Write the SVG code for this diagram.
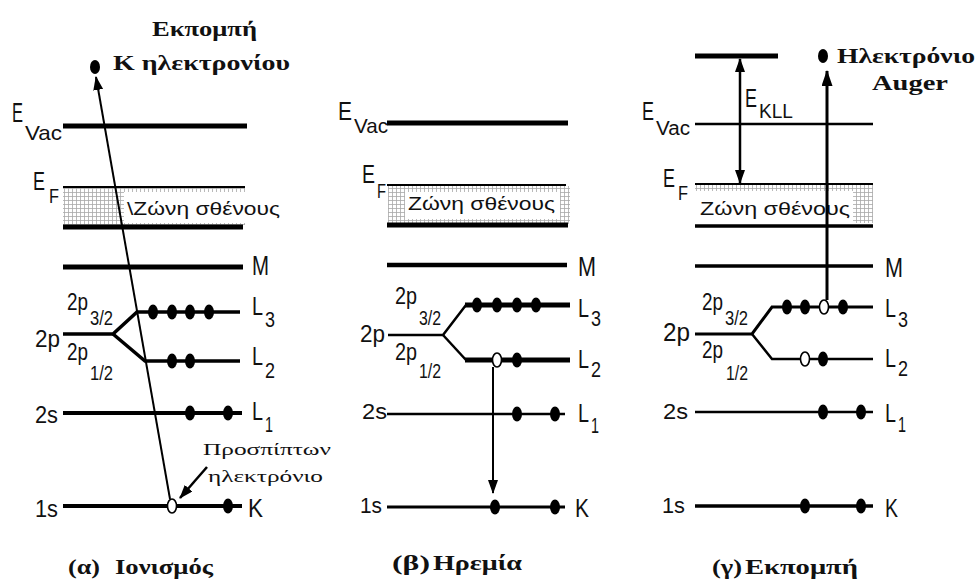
<svg xmlns="http://www.w3.org/2000/svg" width="980" height="583" viewBox="0 0 980 583">
<style>
.lv{stroke:#000;fill:none;stroke-linecap:butt}
.lb{font-family:"Liberation Sans",Arial,sans-serif;fill:#111}
.sf{font-family:"Liberation Serif","Times New Roman",serif;fill:#111}
.b{font-weight:bold}
.dot{fill:#000}
.hole{fill:#fff;stroke:#000;stroke-width:1.6}
.ar{stroke:#000;fill:none}
</style>
<defs>
<pattern id="grid" width="4" height="4" patternUnits="userSpaceOnUse">
<rect width="4" height="4" fill="#fff"/>
<path d="M0,0.5 H4 M0.5,0 V4" stroke="#a8a8a8" stroke-width="0.8"/>
</pattern>
<marker id="ah" markerUnits="userSpaceOnUse" markerWidth="14" markerHeight="10" refX="13" refY="5" orient="auto-start-reverse" viewBox="0 0 14 10">
<path d="M0,0 L14,5 L0,10 z" fill="#000"/>
</marker>
<marker id="ah2" markerUnits="userSpaceOnUse" markerWidth="16" markerHeight="11" refX="15" refY="5.5" orient="auto-start-reverse" viewBox="0 0 16 11">
<path d="M0,0 L16,5.5 L0,11 z" fill="#000"/>
</marker>
</defs>
<rect width="980" height="583" fill="#fff"/>

<!-- Panel alpha -->
<g id="panel-a">
<g id="a-band">
<rect x="63" y="188" width="182" height="37" fill="url(#grid)"/>
<rect x="124" y="192" width="121" height="31" fill="#fff"/>
<text class="lb" x="127" y="215" font-size="18" textLength="153" lengthAdjust="spacingAndGlyphs">\Ζώνη σθένους</text>
</g>
<g id="a-vac"><line class="lv" x1="63" y1="126" x2="247" y2="126" stroke-width="5"/>
<text class="lb" x="12" y="122" font-size="27" textLength="11" lengthAdjust="spacingAndGlyphs">E</text>
<text class="lb" x="25" y="140" font-size="21" textLength="37" lengthAdjust="spacingAndGlyphs">Vac</text></g>
<g id="a-ef"><line class="lv" x1="63" y1="187" x2="245" y2="187" stroke-width="2"/>
<text class="lb" x="33" y="190" font-size="26" textLength="12" lengthAdjust="spacingAndGlyphs">E</text>
<text class="lb" x="49" y="203" font-size="21" textLength="10" lengthAdjust="spacingAndGlyphs">F</text></g>
<g id="a-vb"><line class="lv" x1="63" y1="227" x2="243" y2="227" stroke-width="5"/></g>
<g id="a-m"><line class="lv" x1="63" y1="267" x2="243" y2="267" stroke-width="5"/>
<text class="lb" x="252" y="275" font-size="27" textLength="17" lengthAdjust="spacingAndGlyphs">M</text></g>
<g id="a-2p">
<polyline class="lv" points="63,334 113,334 137,312 240,312" stroke-width="3.5"/>
<polyline class="lv" points="113,334 145,361 240,361" stroke-width="3.5"/>
<text class="lb" x="35" y="347" font-size="24" textLength="25" lengthAdjust="spacingAndGlyphs">2p</text>
<text class="lb" x="67" y="310" font-size="23" textLength="21" lengthAdjust="spacingAndGlyphs">2p</text>
<text class="lb" x="90" y="325" font-size="20" textLength="23" lengthAdjust="spacingAndGlyphs">3/2</text>
<text class="lb" x="67" y="360" font-size="23" textLength="21" lengthAdjust="spacingAndGlyphs">2p</text>
<text class="lb" x="90" y="380" font-size="20" textLength="23" lengthAdjust="spacingAndGlyphs">1/2</text>
<text class="lb" x="252" y="315" font-size="25" textLength="11" lengthAdjust="spacingAndGlyphs">L</text>
<text class="lb" x="265" y="327" font-size="22" textLength="10" lengthAdjust="spacingAndGlyphs">3</text>
<text class="lb" x="252" y="365" font-size="25" textLength="11" lengthAdjust="spacingAndGlyphs">L</text>
<text class="lb" x="265" y="378" font-size="22" textLength="10" lengthAdjust="spacingAndGlyphs">2</text>
<ellipse class="dot" cx="153" cy="312" rx="5" ry="7.5"/><ellipse class="dot" cx="172" cy="312" rx="5" ry="7.5"/>
<ellipse class="dot" cx="190" cy="312" rx="5" ry="7.5"/><ellipse class="dot" cx="209" cy="312" rx="5" ry="7.5"/>
<ellipse class="dot" cx="172" cy="361" rx="5" ry="7.5"/><ellipse class="dot" cx="190" cy="361" rx="5" ry="7.5"/>
</g>
<g id="a-2s"><line class="lv" x1="63" y1="413" x2="242" y2="413" stroke-width="4"/>
<text class="lb" x="35" y="423" font-size="24" textLength="23" lengthAdjust="spacingAndGlyphs">2s</text>
<text class="lb" x="252" y="420" font-size="25" textLength="11" lengthAdjust="spacingAndGlyphs">L</text>
<text class="lb" x="265" y="432" font-size="22" textLength="8" lengthAdjust="spacingAndGlyphs">1</text>
<ellipse class="dot" cx="190" cy="413" rx="5" ry="7.5"/><ellipse class="dot" cx="228" cy="413" rx="5" ry="7.5"/></g>
<g id="a-1s"><line class="lv" x1="63" y1="506" x2="242" y2="506" stroke-width="4"/>
<text class="lb" x="35" y="517" font-size="24" textLength="23" lengthAdjust="spacingAndGlyphs">1s</text>
<text class="lb" x="248" y="517" font-size="26" textLength="15" lengthAdjust="spacingAndGlyphs">K</text>
<ellipse class="hole" cx="172" cy="506" rx="4.5" ry="7"/><ellipse class="dot" cx="228" cy="506" rx="5" ry="7.5"/></g>
<g id="a-out"><ellipse class="dot" cx="95" cy="67" rx="5" ry="7"/>
<text class="sf b" x="152" y="36" font-size="20" textLength="105" lengthAdjust="spacingAndGlyphs">Εκπομπή</text>
<text class="sf b" x="113" y="70" font-size="20" textLength="177" lengthAdjust="spacingAndGlyphs">Κ ηλεκτρονίου</text></g>
<g id="a-inc">
<text class="sf" x="203" y="455" font-size="17" textLength="128" lengthAdjust="spacingAndGlyphs">Προσπίπτων</text>
<text class="sf" x="208" y="482" font-size="17" textLength="115" lengthAdjust="spacingAndGlyphs">ηλεκτρόνιο</text></g>
<g id="a-cap">
<text class="sf b" x="68" y="574" font-size="21" textLength="32" lengthAdjust="spacingAndGlyphs">(α)</text>
<text class="sf b" x="115" y="574" font-size="21" textLength="98" lengthAdjust="spacingAndGlyphs">Ιονισμός</text></g>
</g>

<!-- Panel beta -->
<g id="panel-b">
<g id="b-band">
<rect x="388" y="186" width="182" height="38" fill="url(#grid)"/>
<rect x="405" y="192" width="155" height="27" fill="#fff"/>
<text class="lb" x="408" y="210" font-size="19" textLength="147" lengthAdjust="spacingAndGlyphs">Ζώνη σθένους</text>
</g>
<g id="b-vac"><line class="lv" x1="387" y1="123" x2="568" y2="123" stroke-width="5"/>
<text class="lb" x="338" y="120" font-size="26" textLength="14" lengthAdjust="spacingAndGlyphs">E</text>
<text class="lb" x="354" y="133" font-size="21" textLength="34" lengthAdjust="spacingAndGlyphs">Vac</text></g>
<g id="b-ef"><line class="lv" x1="387" y1="185" x2="566" y2="185" stroke-width="2"/>
<text class="lb" x="362" y="183" font-size="25" textLength="13" lengthAdjust="spacingAndGlyphs">E</text>
<text class="lb" x="377" y="198" font-size="21" textLength="9" lengthAdjust="spacingAndGlyphs">F</text></g>
<g id="b-vb"><line class="lv" x1="387" y1="225" x2="568" y2="225" stroke-width="5"/></g>
<g id="b-m"><line class="lv" x1="387" y1="265" x2="567" y2="265" stroke-width="4.5"/>
<text class="lb" x="578" y="276" font-size="27" textLength="18" lengthAdjust="spacingAndGlyphs">M</text></g>
<g id="b-2p">
<polyline class="lv" points="388,335 443,335 466,305" stroke-width="2.5"/>
<polyline class="lv" points="443,335 466,360" stroke-width="2.5"/>
<line class="lv" x1="465" y1="305" x2="570" y2="305" stroke-width="5"/>
<line class="lv" x1="465" y1="360" x2="570" y2="360" stroke-width="5"/>
<text class="lb" x="360" y="342" font-size="24" textLength="25" lengthAdjust="spacingAndGlyphs">2p</text>
<text class="lb" x="395" y="304" font-size="23" textLength="22" lengthAdjust="spacingAndGlyphs">2p</text>
<text class="lb" x="419" y="325" font-size="20" textLength="22" lengthAdjust="spacingAndGlyphs">3/2</text>
<text class="lb" x="395" y="360" font-size="23" textLength="22" lengthAdjust="spacingAndGlyphs">2p</text>
<text class="lb" x="419" y="378" font-size="20" textLength="22" lengthAdjust="spacingAndGlyphs">1/2</text>
<text class="lb" x="578" y="317" font-size="25" textLength="11" lengthAdjust="spacingAndGlyphs">L</text>
<text class="lb" x="591" y="326" font-size="22" textLength="10" lengthAdjust="spacingAndGlyphs">3</text>
<text class="lb" x="578" y="368" font-size="25" textLength="11" lengthAdjust="spacingAndGlyphs">L</text>
<text class="lb" x="591" y="377" font-size="22" textLength="10" lengthAdjust="spacingAndGlyphs">2</text>
<ellipse class="dot" cx="477" cy="305" rx="5" ry="7.5"/><ellipse class="dot" cx="497" cy="305" rx="5" ry="7.5"/>
<ellipse class="dot" cx="517" cy="305" rx="5" ry="7.5"/><ellipse class="dot" cx="536" cy="305" rx="5" ry="7.5"/>
<ellipse class="hole" cx="497" cy="360" rx="4.5" ry="7"/><ellipse class="dot" cx="517" cy="360" rx="5" ry="7.5"/>
</g>
<g id="b-2s"><line class="lv" x1="387" y1="414" x2="565" y2="414" stroke-width="2.5"/>
<text class="lb" x="362" y="419" font-size="22" textLength="25" lengthAdjust="spacingAndGlyphs">2s</text>
<text class="lb" x="578" y="422" font-size="25" textLength="11" lengthAdjust="spacingAndGlyphs">L</text>
<text class="lb" x="591" y="433" font-size="22" textLength="8" lengthAdjust="spacingAndGlyphs">1</text>
<ellipse class="dot" cx="517" cy="414" rx="5" ry="7.5"/><ellipse class="dot" cx="555" cy="414" rx="5" ry="7.5"/></g>
<g id="b-1s"><line class="lv" x1="387" y1="507" x2="565" y2="507" stroke-width="3"/>
<text class="lb" x="360" y="513" font-size="22" textLength="22" lengthAdjust="spacingAndGlyphs">1s</text>
<text class="lb" x="575" y="517" font-size="26" textLength="14" lengthAdjust="spacingAndGlyphs">K</text>
<ellipse class="dot" cx="495" cy="507" rx="5" ry="7.5"/><ellipse class="dot" cx="555" cy="507" rx="5" ry="7.5"/></g>
<g id="b-cap">
<text class="sf b" x="392" y="570" font-size="21" textLength="38" lengthAdjust="spacingAndGlyphs">(β)</text>
<text class="sf b" x="433" y="570" font-size="21" textLength="89" lengthAdjust="spacingAndGlyphs">Ηρεμία</text></g>
</g>

<!-- Panel gamma -->
<g id="panel-c">
<g id="c-band">
<rect x="695" y="185" width="178" height="38" fill="url(#grid)"/>
<rect x="695" y="191" width="158" height="32" fill="#fff"/>
<text class="lb" x="700" y="215" font-size="19" textLength="150" lengthAdjust="spacingAndGlyphs">Ζώνη σθένους</text>
</g>
<g id="c-top"><line class="lv" x1="695" y1="56" x2="778" y2="56" stroke-width="5"/></g>
<g id="c-vac"><line class="lv" x1="695" y1="124" x2="873" y2="124" stroke-width="2.5"/>
<text class="lb" x="642" y="120" font-size="25" textLength="12" lengthAdjust="spacingAndGlyphs">E</text>
<text class="lb" x="656" y="135" font-size="20" textLength="34" lengthAdjust="spacingAndGlyphs">Vac</text></g>
<g id="c-ef"><line class="lv" x1="695" y1="184" x2="873" y2="184" stroke-width="2"/>
<text class="lb" x="663" y="187" font-size="25" textLength="12" lengthAdjust="spacingAndGlyphs">E</text>
<text class="lb" x="678" y="200" font-size="20" textLength="10" lengthAdjust="spacingAndGlyphs">F</text></g>
<g id="c-vb"><line class="lv" x1="695" y1="226" x2="873" y2="226" stroke-width="3.5"/></g>
<g id="c-m"><line class="lv" x1="695" y1="266" x2="873" y2="266" stroke-width="3.5"/>
<text class="lb" x="885" y="277" font-size="27" textLength="18" lengthAdjust="spacingAndGlyphs">M</text></g>
<g id="c-2p">
<polyline class="lv" points="695,334 752,334 772,307 873,307" stroke-width="3"/>
<polyline class="lv" points="752,334 772,359 873,359" stroke-width="2.5"/>
<text class="lb" x="663" y="341" font-size="25" textLength="27" lengthAdjust="spacingAndGlyphs">2p</text>
<text class="lb" x="702" y="310" font-size="23" textLength="21" lengthAdjust="spacingAndGlyphs">2p</text>
<text class="lb" x="725" y="325" font-size="20" textLength="23" lengthAdjust="spacingAndGlyphs">3/2</text>
<text class="lb" x="702" y="358" font-size="23" textLength="21" lengthAdjust="spacingAndGlyphs">2p</text>
<text class="lb" x="726" y="380" font-size="20" textLength="22" lengthAdjust="spacingAndGlyphs">1/2</text>
<text class="lb" x="885" y="317" font-size="26" textLength="11" lengthAdjust="spacingAndGlyphs">L</text>
<text class="lb" x="898" y="327" font-size="22" textLength="10" lengthAdjust="spacingAndGlyphs">3</text>
<text class="lb" x="885" y="367" font-size="26" textLength="11" lengthAdjust="spacingAndGlyphs">L</text>
<text class="lb" x="898" y="376" font-size="22" textLength="10" lengthAdjust="spacingAndGlyphs">2</text>
<ellipse class="dot" cx="787" cy="307" rx="5" ry="7.5"/><ellipse class="dot" cx="805" cy="307" rx="5" ry="7.5"/>
<ellipse class="hole" cx="824" cy="307" rx="4.5" ry="7"/><ellipse class="dot" cx="843" cy="307" rx="5" ry="7.5"/>
<ellipse class="hole" cx="805" cy="359" rx="4.5" ry="7"/><ellipse class="dot" cx="823" cy="359" rx="5" ry="7.5"/>
</g>
<g id="c-2s"><line class="lv" x1="695" y1="412" x2="873" y2="412" stroke-width="2.5"/>
<text class="lb" x="663" y="419" font-size="22" textLength="25" lengthAdjust="spacingAndGlyphs">2s</text>
<text class="lb" x="885" y="422" font-size="26" textLength="11" lengthAdjust="spacingAndGlyphs">L</text>
<text class="lb" x="898" y="432" font-size="22" textLength="8" lengthAdjust="spacingAndGlyphs">1</text>
<ellipse class="dot" cx="823" cy="412" rx="5" ry="7.5"/><ellipse class="dot" cx="861" cy="412" rx="5" ry="7.5"/></g>
<g id="c-1s"><line class="lv" x1="695" y1="506" x2="873" y2="506" stroke-width="3.5"/>
<text class="lb" x="662" y="513" font-size="22" textLength="23" lengthAdjust="spacingAndGlyphs">1s</text>
<text class="lb" x="885" y="517" font-size="26" textLength="13" lengthAdjust="spacingAndGlyphs">K</text>
<ellipse class="dot" cx="805" cy="506" rx="5" ry="7.5"/><ellipse class="dot" cx="861" cy="506" rx="5" ry="7.5"/></g>
<g id="c-auger"><ellipse class="dot" cx="823" cy="56" rx="5" ry="7"/>
<text class="sf b" x="837" y="63" font-size="20" textLength="138" lengthAdjust="spacingAndGlyphs">Ηλεκτρόνιο</text>
<text class="sf b" x="872" y="90" font-size="20" textLength="76" lengthAdjust="spacingAndGlyphs">Auger</text></g>
<g id="c-ekll">
<text class="lb" x="745" y="107" font-size="26" textLength="12" lengthAdjust="spacingAndGlyphs">E</text>
<text class="lb" x="759" y="118" font-size="20" textLength="34" lengthAdjust="spacingAndGlyphs">KLL</text></g>
<g id="c-cap">
<text class="sf b" x="712" y="574" font-size="21" textLength="30" lengthAdjust="spacingAndGlyphs">(γ)</text>
<text class="sf b" x="745" y="574" font-size="21" textLength="113" lengthAdjust="spacingAndGlyphs">Εκπομπή</text></g>
</g>

<!-- Connectors -->
<g id="connectors">
<line class="ar" x1="170" y1="499" x2="96" y2="77" stroke-width="2" marker-end="url(#ah)"/>
<line class="ar" x1="207" y1="467" x2="180" y2="498" stroke-width="2.5" marker-end="url(#ah)"/>
<line class="ar" x1="493" y1="367" x2="493" y2="493" stroke-width="2" marker-end="url(#ah)"/>
<line class="ar" x1="740" y1="59" x2="740" y2="183" stroke-width="2.5" marker-start="url(#ah)" marker-end="url(#ah)"/>
<line class="ar" x1="827" y1="300" x2="827" y2="71" stroke-width="3" marker-end="url(#ah2)"/>
</g>
</svg>
